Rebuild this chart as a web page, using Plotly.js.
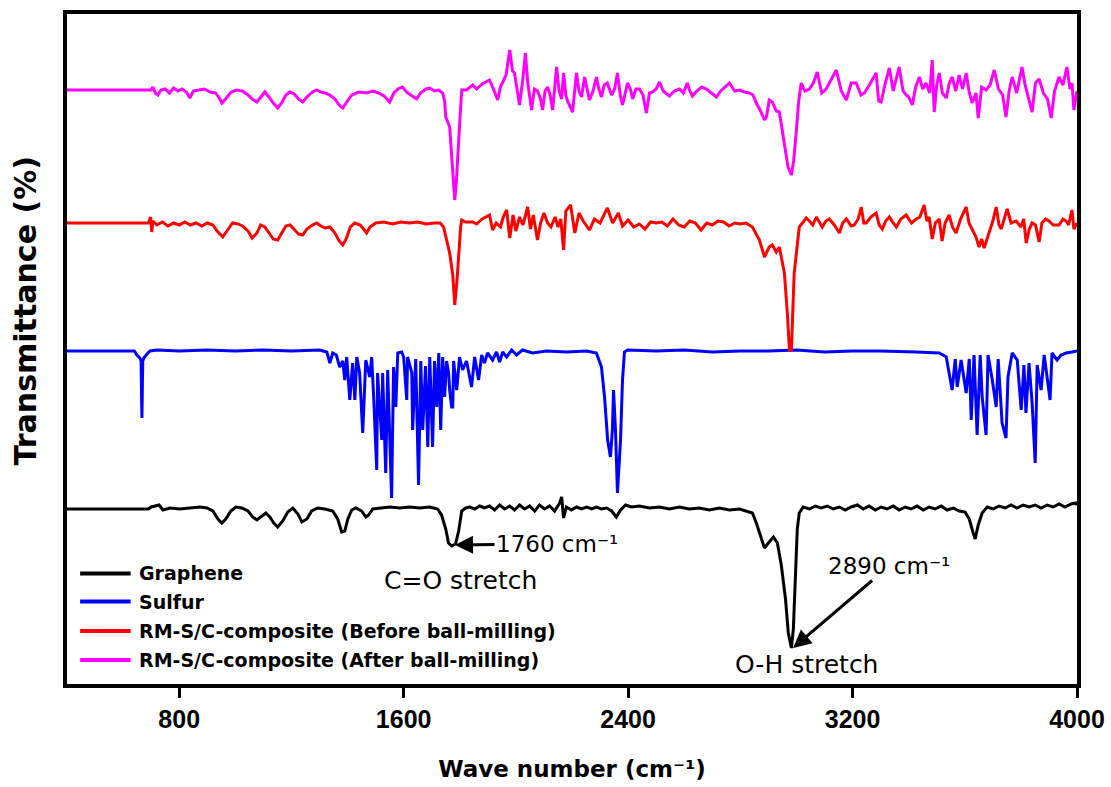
<!DOCTYPE html>
<html>
<head>
<meta charset="utf-8">
<script src="https://cdn.plot.ly/plotly-3.0.1.min.js"></script>
<style>html,body{margin:0;padding:0;background:#fff;}#chart{width:1111px;height:787px;}</style>
</head>
<body>
<div id="chart"></div>
<script>
// ---- Data (wave number in cm-1, transmittance in %, each series on its own offset) ----
const seriesNames = ["Graphene", "Sulfur", "RM-S/C-composite (Before ball-milling)", "RM-S/C-composite (After ball-milling)"];
const seriesColors = ["#000000", "#0000FF", "#FF0000", "#FF00FF"];
const seriesOffsets = [-12.5, 66.5, 129.5, 196.5];
const xTickVals = [800, 1600, 2400, 3200, 4000];

const grapheneWn = [400,690,700,728,742,767,802,838,874,899,920,938,952,966,984,1002,1023,1045,1062,1077,1094,1109,1123,1137,1151,1169,1187,1205,1223,1237,1255,1272,1294,1319,1347,1365,1379,1390,1401,1415,1429,1450,1465,1475,1490,1515,1550,1586,1621,1657,1693,1721,1735,1750,1760,1771,1785,1796,1807,1821,1835,1853,1871,1888,1906,1924,1942,1960,1978,1995,2013,2031,2049,2067,2084,2102,2120,2138,2156,2163,2170,2180,2198,2216,2234,2252,2270,2287,2305,2323,2341,2358,2373,2391,2412,2440,2476,2512,2547,2583,2618,2654,2690,2725,2761,2797,2825,2843,2857,2872,2886,2900,2918,2932,2946,2961,2971,2982,2989,2996,3003,3010,3024,3046,3067,3088,3110,3131,3153,3174,3195,3217,3238,3259,3281,3302,3323,3345,3366,3388,3409,3430,3452,3473,3494,3516,3537,3559,3580,3601,3616,3630,3637,3648,3662,3680,3701,3722,3744,3765,3786,3808,3829,3851,3872,3893,3915,3936,3957,3979,3996,4000];
const grapheneT = [100,100,101,102,99.5,100.5,100,100.5,101,100.5,99,95,93,95,99,101,100.5,99,96,94.5,96.5,98,96,93,91,94,98.5,100.5,97.5,93.5,95,99,100.5,100,99,95,88.5,89,95,99.5,100.5,99,96,97,100,100.5,101,100.5,101,100.5,101,100,97,90,83,81.5,82.5,89,99,100.5,101,100,101.5,100.5,101.5,99.5,102,100,101.5,99.5,102,100,101.5,99,102,100,101.5,99,103,106,95.5,101,99.5,101,100,101,100,101,100,100.5,99,96,99.5,102,101,101.5,100.5,101,100,101,100,100.5,99.5,100.5,99.5,100,99,98,93,86,80.5,83,86,83,72,55,38,30.5,40,65,90,98,101,100,101.5,100.5,101.5,100,101,99.5,101,102,100,101.5,99.5,101,100,101.5,99.5,101,100,101.5,99.5,101,100,101.5,99.5,100.5,99,98.5,95,88,85,92,98,101,100,101.5,100.5,102,100.5,102,101,102,100.5,102,101,102.5,101,102.5,103,102];

const sulfurWn = [400,640,649,660,664,667,670,674,685,696,720,800,900,1000,1100,1200,1300,1326,1337,1347,1360,1372,1383,1390,1397,1408,1418,1426,1433,1443,1454,1465,1479,1486,1493,1504,1507,1522,1525,1536,1543,1557,1564,1572,1579,1593,1600,1611,1614,1629,1632,1643,1653,1661,1668,1678,1686,1693,1703,1710,1718,1725,1732,1739,1746,1753,1760,1764,1771,1775,1778,1789,1792,1799,1810,1824,1842,1853,1867,1878,1888,1899,1917,1931,1942,1953,1967,1985,2002,2024,2059,2109,2181,2252,2287,2305,2316,2327,2337,2344,2348,2355,2362,2373,2380,2387,2398,2500,2600,2700,2800,2900,3000,3100,3200,3300,3427,3509,3534,3555,3566,3573,3587,3605,3616,3623,3633,3644,3655,3662,3676,3683,3698,3712,3719,3733,3747,3754,3769,3787,3801,3811,3818,3829,3840,3851,3858,3872,3883,3893,3904,3911,3929,3943,3961,3982,4000];
const sulfurT = [100,100,98,96.5,95,66.5,95,96.5,98.5,100,100.5,100,100.5,100,100.5,100,100.5,99.5,94,99,98,92,95,85.5,97,75.5,94,75.5,97,89,59,95.5,87,97,77,40.5,89,55.5,89,39,90.5,26.5,92,72,99,99.5,97,75.5,97,89,60.5,96,33,95,60.5,92.5,52,97,52,95,72,99,60.5,97,77,95,89,80.5,72,72,95,80.5,85,97,90.5,95,82,97,85.5,98,94,99,95.5,99.5,94.5,99.5,97,100.5,98,100.5,99,100,99.5,100,99,92,77,55.5,47,60.5,80.5,60.5,29,55.5,85.5,99.5,100.5,100,100.5,99.5,100,100,100.5,99.5,100,100,99.5,99,97,80.5,96,82,95.5,79,96,65.5,98,58,98,77,58,98,85.5,72,96,64,56.5,87,99,95.5,70.5,93,69,94,74,44,93,80.5,98,87,75.5,99,95.5,98,99,99.5,100];

const beforeWn = [400,690,698,702,706,720,740,760,780,800,820,840,860,880,900,920,935,955,975,990,1010,1025,1045,1060,1077,1090,1105,1120,1135,1151,1165,1180,1195,1210,1225,1240,1255,1275,1290,1305,1320,1337,1355,1370,1383,1395,1410,1425,1445,1460,1468,1480,1500,1530,1560,1590,1620,1650,1680,1710,1730,1742,1752,1764,1775,1782,1790,1796,1803,1807,1820,1846,1860,1880,1896,1906,1917,1930,1945,1955,1967,1978,1990,2000,2013,2025,2042,2052,2062,2077,2088,2100,2113,2125,2140,2150,2160,2170,2178,2195,2210,2225,2240,2262,2280,2300,2326,2345,2365,2380,2400,2420,2440,2460,2480,2500,2520,2540,2560,2580,2600,2620,2640,2660,2680,2700,2720,2740,2760,2780,2800,2820,2843,2868,2886,2903,2914,2928,2939,2957,2968,2975,2982,2992,3010,3035,3046,3058,3071,3092,3105,3117,3135,3153,3165,3178,3195,3206,3220,3231,3240,3249,3265,3284,3295,3306,3318,3331,3345,3356,3372,3391,3410,3427,3440,3455,3465,3473,3484,3495,3509,3519,3530,3544,3556,3569,3585,3605,3615,3626,3640,3651,3660,3669,3687,3700,3712,3722,3730,3740,3751,3765,3783,3800,3810,3819,3830,3840,3852,3865,3875,3888,3900,3915,3936,3950,3961,3970,3982,3989,4000];
const beforeT = [101,101,104,96.5,102,100,101.5,99.5,101,100,101.5,100,101,99.5,101,100,97,94,98,101,100.5,99.5,97,93.5,96,100,99,96,93,92.5,96,99.5,100,98,95.5,95,98,100,101,99.5,98.5,99,96,92,90,93,99,101,100,97.5,96,99,101,101.5,100.5,101.5,101,101.5,100.5,101,101,99,92.5,86,75,60,72,86,99,102.5,101.5,101.5,100.5,103,104,105,97.5,101,99,104,107.5,93.5,105,97,104,100,109,98,105,92.5,101,106,101,99,104,99,103,87.5,107,110,96,106,102,97.5,103,101,108.5,101,106,99.5,102.5,99,100.5,98,101.5,101,101.5,99.5,103,100,99,102,101,97.5,101,100,102,101.5,99.5,101,100.5,101,99,92.5,84,89,90,86.5,89,76,55,37.5,37.5,76,99,103.5,102,100,104,99,102,103,100,96,101,103,99.5,100,103,109,101,101,104,106,100,98,102,104,101,99,103,105,101,103,104,110,102,104,93,101,103,92,101,105,99,96,103,109,101,98,94,89,93,88.5,96,102,109,100,98,103,108,101,102,99,103,91,98,101,100,91.5,101,103,102,100,100,103,102,100,107.5,98,101];

const afterWn = [400,700,706,715,724,735,750,765,780,795,810,825,838,850,870,890,910,930,945,952,965,985,1005,1025,1045,1060,1077,1090,1105,1120,1135,1151,1165,1180,1194,1210,1225,1240,1255,1275,1290,1305,1320,1337,1355,1370,1383,1395,1415,1440,1468,1490,1510,1530,1550,1565,1580,1596,1610,1630,1646,1660,1680,1693,1710,1725,1739,1746,1750,1764,1775,1782,1788,1792,1800,1807,1824,1846,1860,1880,1906,1920,1935,1945,1953,1965,1978,1988,1995,2005,2013,2024,2034,2042,2056,2066,2077,2088,2095,2104,2113,2122,2131,2145,2154,2163,2170,2178,2184,2202,2216,2225,2234,2245,2255,2262,2275,2287,2296,2305,2315,2326,2341,2352,2362,2372,2380,2390,2398,2408,2416,2428,2440,2453,2465,2476,2487,2500,2512,2525,2547,2565,2583,2597,2611,2620,2629,2645,2662,2679,2697,2715,2730,2745,2761,2780,2797,2815,2832,2845,2857,2872,2886,2893,2903,2914,2928,2939,2950,2957,2970,2982,2990,2999,3008,3017,3030,3046,3060,3074,3090,3106,3120,3142,3160,3178,3195,3213,3230,3242,3260,3284,3293,3302,3315,3331,3345,3366,3380,3391,3400,3413,3425,3438,3450,3462,3475,3484,3491,3500,3509,3520,3534,3545,3555,3568,3580,3592,3605,3615,3626,3640,3648,3660,3676,3690,3705,3720,3735,3747,3758,3769,3785,3804,3815,3825,3840,3852,3865,3880,3895,3908,3920,3936,3950,3964,3975,3982,3989,4000];
const afterT = [100.5,100.5,102,99,98,100.5,101,99,101.5,100,101,99.5,96.5,100,100.5,101,99.5,99,96,94,96,99.5,100.5,100,98,96,94.5,97,99.5,97,94,91.5,94,98,99.5,98.5,96,94.5,97,99.5,100.5,99.5,99,98,96,93,91.5,94,98,99.5,99,100,99,97.5,94.5,99,101,102,99.5,97.5,96,99,101,101.5,100,100.5,99,95,87,82,60,45.5,55,67,85,100.5,100.5,103,101,103.5,105.5,101,95.5,102,104.5,108,120.5,110,109,100,93,105,119,104.5,90.5,101,100,96,90.5,100,102,98,90.5,112,100,96,109,98,95,89.5,109,100,97,107,99,95.5,100,107,101,97,103,104,98,101,109,98,93,100,104,101,96,101,101,98,89,99,99.5,101,104.5,100,97.5,100,101,99,104,100,97.5,100,102,101,99,97,100,102,104,100,100.5,99.5,99,98,94,90,85.5,87,95.5,94.5,90,89.5,80,72,62,58,65,79,95,104,100,101,104,109.5,99,101,105,110.5,100,95.5,104,104,98,99,103,109,95,94.5,103,111.5,100,112,100,98,97,93,102,107,101,104,99,115.5,89.5,103,109,99,96.5,104,107,100,108,101,109,100,94,99,86.5,102,100.5,103,110.5,101,98,87,100,107,99,112,103,98,89.5,104,106,99,96,86.5,100,107,103,112,101,104,90.5,100];

const allWn = [grapheneWn, sulfurWn, beforeWn, afterWn];
const allT = [grapheneT, sulfurT, beforeT, afterT];

// ---- Traces ----
const traces = allWn.map((wn, i) => ({
  type: 'scatter', mode: 'lines',
  x: wn,
  y: allT[i].map(v => v + seriesOffsets[i]),
  name: seriesNames[i],
  line: {color: seriesColors[i], width: 3},
  showlegend: false,
  hoverinfo: 'skip'
}));

// ---- Manual legend (longer line samples, like the original) ----
const legendRowY = [0.165, 0.123, 0.079, 0.036];
const shapes = [];
const annotations = [];
seriesNames.forEach((n, i) => {
  shapes.push({type: 'line', xref: 'paper', yref: 'paper', x0: 0.013, x1: 0.063, y0: legendRowY[i], y1: legendRowY[i],
    line: {color: seriesColors[i], width: 4}});
  annotations.push({xref: 'paper', yref: 'paper', x: 0.069, y: legendRowY[i], xanchor: 'left', yanchor: 'middle',
    text: n, showarrow: false, font: {family: 'DejaVu Sans, Arial', size: 19, weight: 'bold', color: '#000'}});
});

const annFont = {family: 'DejaVu Sans, Arial', size: 23, color: '#000'};
annotations.push(
  {x: 1783, y: 69.5, xref: 'x', yref: 'y', text: '1760 cm\u207B\u00B9', showarrow: true, ax: 102, ay: -1,
    arrowhead: 2, arrowsize: 1.2, arrowwidth: 3, arrowcolor: '#000', font: annFont},
  {x: 1801, y: 52, xref: 'x', yref: 'y', xanchor: 'center', yanchor: 'middle', text: 'C=O stretch', showarrow: false, font: {family: 'DejaVu Sans, Arial', size: 25, color: '#000'}},
  {x: 2988, y: 18, xref: 'x', yref: 'y', text: '2890 cm\u207B\u00B9', showarrow: true, ax: 96, ay: -82,
    arrowhead: 2, arrowsize: 1.2, arrowwidth: 3, arrowcolor: '#000', font: annFont},
  {x: 3037, y: 10, xref: 'x', yref: 'y', xanchor: 'center', yanchor: 'middle', text: 'O-H stretch', showarrow: false, font: {family: 'DejaVu Sans, Arial', size: 25, color: '#000'}},
  {xref: 'paper', yref: 'paper', x: -0.041, y: 0.557, xanchor: 'center', yanchor: 'middle', textangle: -90,
    text: 'Transmittance (%)', showarrow: false, font: {family: 'DejaVu Sans, Arial', size: 30, weight: 'bold', color: '#000'}}
);

const layout = {
  width: 1111, height: 787,
  margin: {l: 67, r: 34, t: 14, b: 103},
  paper_bgcolor: '#fff', plot_bgcolor: '#fff',
  showlegend: false,
  xaxis: {
    range: [400, 4000], tickmode: 'array', tickvals: xTickVals, ticktext: xTickVals.map(String),
    ticks: 'outside', ticklen: 10, tickwidth: 3, tickcolor: '#000',
    showline: true, linewidth: 4, linecolor: '#000', mirror: true,
    showgrid: false, zeroline: false,
    tickfont: {family: 'Liberation Sans, Arial', size: 25, weight: 'bold', color: '#000'},
    title: {text: 'Wave number (cm\u207B\u00B9)', standoff: 30, font: {family: 'DejaVu Sans, Arial', size: 23, weight: 'bold', color: '#000'}}
  },
  yaxis: {
    range: [0, 335], showticklabels: false, ticks: '',
    showline: true, linewidth: 4, linecolor: '#000', mirror: true,
    showgrid: false, zeroline: false
  },
  shapes: shapes,
  annotations: annotations
};

Plotly.newPlot('chart', traces, layout, {displayModeBar: false, staticPlot: true});
</script>
</body>
</html>
